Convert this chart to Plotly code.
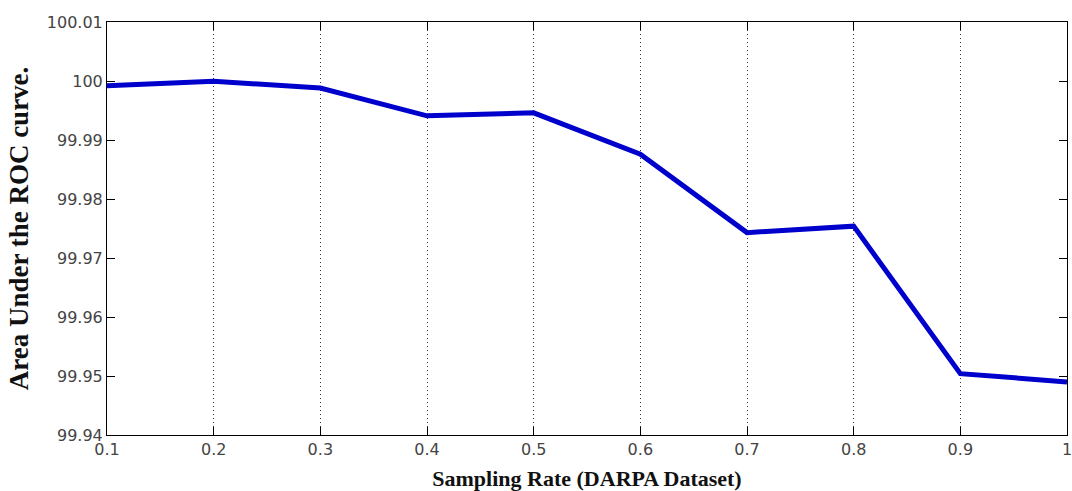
import plotly.graph_objects as go

sampling_rate = [0.1, 0.2, 0.3, 0.4, 0.5, 0.6, 0.7, 0.8, 0.9, 1.0]
auc = [99.9992, 99.99995, 99.9988, 99.9941, 99.9946, 99.9876, 99.9743, 99.9754, 99.9504, 99.9490]
x_ticks = [0.1, 0.2, 0.3, 0.4, 0.5, 0.6, 0.7, 0.8, 0.9, 1.0]
x_tick_text = ["0.1", "0.2", "0.3", "0.4", "0.5", "0.6", "0.7", "0.8", "0.9", "1"]
y_ticks = [99.94, 99.95, 99.96, 99.97, 99.98, 99.99, 100.0, 100.01]
y_tick_text = ["99.94", "99.95", "99.96", "99.97", "99.98", "99.99", "100", "100.01"]

fig = go.Figure()
fig.add_trace(go.Scatter(
    x=sampling_rate, y=auc, mode="lines",
    line=dict(color="#0000cc", width=5),
    showlegend=False,
))

tick_font = dict(family="DejaVu Sans", size=16, color="#444444")

fig.update_layout(
    width=1072, height=491,
    margin=dict(l=107, r=5, t=22, b=56),
    paper_bgcolor="white", plot_bgcolor="white",
    xaxis=dict(
        range=[0.1, 1.0], tickvals=x_ticks, ticktext=x_tick_text,
        ticks="inside", ticklen=8, tickcolor="black",
        showline=True, linecolor="black", linewidth=1, mirror="ticks",
        showgrid=True, gridcolor="#333333", griddash="1px,3px", gridwidth=1,
        zeroline=False, tickfont=tick_font, automargin=False,
        ticklabeloverflow="allow",
        title=dict(text="<b>Sampling Rate (DARPA Dataset)</b>",
                   font=dict(family="Liberation Serif", size=22, color="#111111"), standoff=12),
    ),
    yaxis=dict(
        range=[99.94, 100.01], tickvals=y_ticks, ticktext=y_tick_text,
        ticks="inside", ticklen=8, tickcolor="black",
        showline=True, linecolor="black", linewidth=1, mirror="ticks",
        showgrid=False, zeroline=False, tickfont=tick_font, automargin=False,
        title=dict(text="<b>Area Under the ROC curve.</b>",
                   font=dict(family="Liberation Serif", size=27, color="#111111"), standoff=10),
    ),
)

# remove the default 8px page margin so the figure fills the window exactly
fig.write_html(
    "out.html",
    config={"displayModeBar": False},
    post_script="document.body.style.margin='0';document.body.style.overflow='hidden';",
)
